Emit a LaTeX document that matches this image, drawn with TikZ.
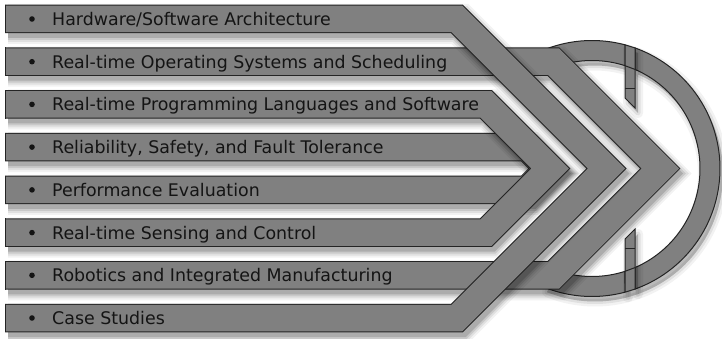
\documentclass[tikz,border=0pt]{standalone}
\usepackage{fontspec}
\setmainfont{DejaVu Sans}
\definecolor{barcol}{RGB}{128,128,128}
\definecolor{edgecol}{RGB}{36,36,36}
\definecolor{txtcol}{RGB}{20,20,20}
\newcommand{\ShadowStroke}[1]{%
  \begin{scope}[xshift=3pt,yshift=-5pt]
    \draw[line width=40, black, opacity=0.05] #1;
    \draw[line width=36, black, opacity=0.07] #1;
    \draw[line width=32, black, opacity=0.10] #1;
    \draw[line width=28, black, opacity=0.14] #1;
  \end{scope}}
\newcommand{\BarStroke}[1]{%
  \ShadowStroke{#1}%
  \draw[line width=28.5, edgecol] #1;
  \draw[line width=26.5, barcol] #1;}
\newcommand{\PieceDraw}[1]{%
  \begin{scope}[xshift=3pt,yshift=-5pt]
    \filldraw[black, opacity=0.05, line width=10, line join=round] #1;
    \filldraw[black, opacity=0.07, line width=5, line join=round] #1;
    \fill[black, opacity=0.12] #1;
  \end{scope}
  \filldraw[fill=barcol, draw=edgecol, line width=1] #1;}
\tikzset{
  lbl/.style={anchor=base west, inner sep=0pt, text=txtcol, font=\fontsize{17.4}{20}\selectfont},
  bullet/.style={circle, fill=txtcol, inner sep=0pt, minimum size=5.6pt},
  edgeline/.style={draw=edgecol, line width=1}
}
\begin{document}
\begin{tikzpicture}[x=1pt,y=-1pt,line join=miter,line cap=butt]
\useasboundingbox[fill=white] (0,0) rectangle (722,339);
% ring pieces (behind the chevrons)
\PieceDraw{plot[domain=-112:-75.06,samples=25] ({592+128*cos(\x)},{168.5+128*sin(\x)}) -- (625,65.7) -- plot[domain=-72.22:-112,samples=25] ({592+108*cos(\x)},{168.5+108*sin(\x)}) -- cycle}
\PieceDraw{plot[domain=75.06:112,samples=25] ({592+128*cos(\x)},{168.5+128*sin(\x)}) -- plot[domain=112:72.22,samples=25] ({592+108*cos(\x)},{168.5+108*sin(\x)}) -- (625,292.2) -- cycle}
\PieceDraw{plot[domain=-70.37:70.37,samples=80] ({592+128*cos(\x)},{168.5+128*sin(\x)}) -- plot[domain=66.54:-66.54,samples=80] ({592+108*cos(\x)},{168.5+108*sin(\x)}) -- cycle}
% tabs where the ring breaks
\PieceDraw{(625,44.8) -- (635,47.9) -- (635,108) -- (625,98) -- cycle}
\draw[edgeline] (625,65.7) -- (635,69.4);
\draw[edgeline] (625,89) -- (635,89);
\PieceDraw{(625,292.2) -- (635,289.1) -- (635,229) -- (625,239) -- cycle}
\draw[edgeline] (625,271.3) -- (635,267.6);
\draw[edgeline] (625,248) -- (635,248);
% chevron bars
\BarStroke{(5,61.7) -- (553.5,61.7) -- (660.3,168.5) -- (553.5,275.3) -- (5,275.3)}
\BarStroke{(5,19) -- (457,19) -- (606.5,168.5) -- (457,318) -- (5,318)}
\BarStroke{(5,147.1) -- (527,147.1) -- (548.4,168.5) -- (527,189.9) -- (5,189.9)}
\BarStroke{(5,104.4) -- (486,104.4) -- (550.1,168.5) -- (486,232.6) -- (5,232.6)}
% left ends of the bars
\foreach \yc in {19,61.7,104.4,147.1,189.9,232.6,275.3,318}
  \draw[edgeline] (5.5,{\yc-14.25}) -- (5.5,{\yc+14.25});
% bullets and labels
\node[bullet] (b1) at (32,19) {};
\node[bullet] (b2) at (32,61.7) {};
\node[bullet] (b3) at (32,104.4) {};
\node[bullet] (b4) at (32,147.1) {};
\node[bullet] (b5) at (32,189.9) {};
\node[bullet] (b6) at (32,232.6) {};
\node[bullet] (b7) at (32,275.3) {};
\node[bullet] (b8) at (32,318) {};
\node[lbl] (t1) at (52,25.5) {Hardware/Software Architecture};
\node[lbl] (t2) at (52,68.2) {Real-time Operating Systems and Scheduling};
\node[lbl] (t3) at (52,110.9) {Real-time Programming Languages and Software};
\node[lbl] (t4) at (52,153.6) {Reliability, Safety, and Fault Tolerance};
\node[lbl] (t5) at (52,196.4) {Performance Evaluation};
\node[lbl] (t6) at (52,239.1) {Real-time Sensing and Control};
\node[lbl] (t7) at (52,281.8) {Robotics and Integrated Manufacturing};
\node[lbl] (t8) at (52,324.5) {Case Studies};
\end{tikzpicture}
\end{document}
